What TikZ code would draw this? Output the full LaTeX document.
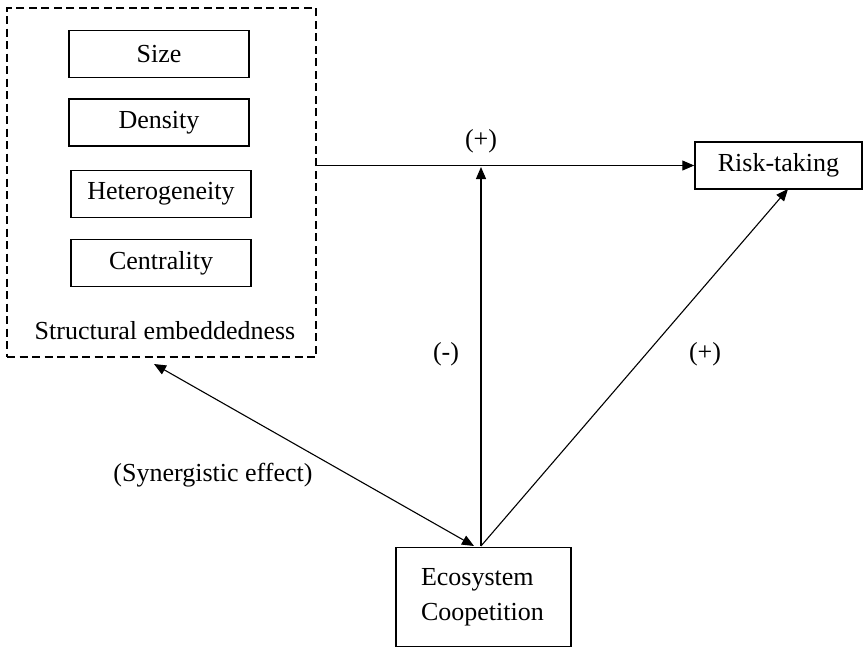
\documentclass[tikz,border=0pt]{standalone}
\usepackage{fontspec}
\setmainfont{Liberation Serif}
\usetikzlibrary{arrows.meta}
\begin{document}
\begin{tikzpicture}[x=1pt,y=-1pt,
  every node/.style={font=\fontsize{26}{35}\selectfont},
  smallbox/.style={draw, line width=1.5pt, minimum width=180pt, minimum height=47pt, inner sep=0pt},
  bigbox/.style={draw, line width=1.5pt, inner sep=0pt},
  dashbox/.style={draw, line width=1.8pt, dash pattern=on 8pt off 4.5pt},
  conn/.style={line width=1.1pt},
  tip/.style={-{Triangle[length=12pt,width=10pt]}},
  lbl/.style={inner sep=0pt}
]
\useasboundingbox (0,0) rectangle (863,649);
% dashed group
\node[dashbox, minimum width=309pt, minimum height=349pt, inner sep=0pt] (se) at (161.5,182.5) {};
\node[smallbox] (size) at (159,54) {Size};
\node[smallbox] (dens) at (159,122.5) {Density};
\node[smallbox] (het) at (161,194) {Heterogeneity};
\node[smallbox] (cen) at (161,263) {Centrality};
\node[lbl] (selbl) at (165,331) {Structural embeddedness};
% other boxes
\node[bigbox, minimum width=167pt, minimum height=47pt] (risk) at (778.5,165.5) {Risk-taking};
\node[bigbox, minimum width=175pt, minimum height=99pt, text width=125pt, align=left, inner xsep=25pt] (eco) at (483.5,597) {Ecosystem\\Coopetition};
% connector points
\coordinate (seE) at (se.east |- risk.west);
\coordinate (j) at (481,167);
\coordinate (ecoT) at (481,546);
\coordinate (ecoT2) at (474,546);
\coordinate (seB) at (154,364);
\coordinate (riskB) at (788,189);
% connectors
\draw[conn, tip] (seE) -- (risk.west);
\draw[conn, tip] (ecoT) -- (j);
\draw[conn, tip] (ecoT) -- (riskB);
\draw[conn, {Triangle[length=12pt,width=10pt]}-{Triangle[length=12pt,width=10pt]}] (seB) -- (ecoT2);
% labels
\node[lbl] (p1) at (481,141) {(+)};
\node[lbl] (m1) at (446,354) {(-)};
\node[lbl] (p2) at (705,354) {(+)};
\node[lbl] (syn) at (213,475) {(Synergistic effect)};
\end{tikzpicture}
\end{document}
